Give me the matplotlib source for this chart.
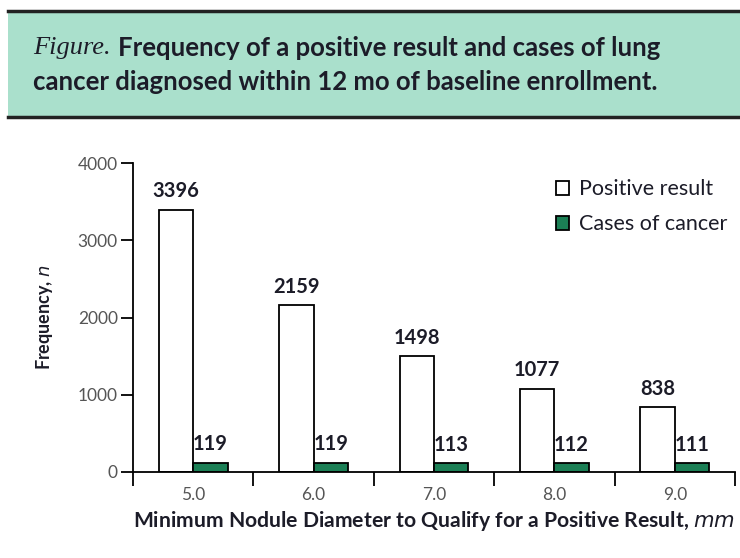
import matplotlib.pyplot as plt
from matplotlib.patches import Rectangle
from matplotlib.lines import Line2D
import numpy as np

diameters = ['5.0', '6.0', '7.0', '8.0', '9.0']
positive = [3396, 2159, 1498, 1077, 838]
cancer = [119, 119, 113, 112, 111]

teal = '#aae0cc'
green = '#1b7f55'
ink = '#1c1c28'

fig = plt.figure(figsize=(7.4, 5.58), dpi=100)

# header band
fig.patches.append(Rectangle((8/740, 1 - 117/558), 1, 106/558, transform=fig.transFigure,
                             facecolor=teal, edgecolor='none', zorder=0))
fig.lines.append(Line2D([8/740, 1], [1 - 11/558, 1 - 11/558], transform=fig.transFigure,
                        color='#222222', lw=2.5))
fig.lines.append(Line2D([8/740, 1], [1 - 117/558, 1 - 117/558], transform=fig.transFigure,
                        color='#222222', lw=2.5))
fig.text(33/740, 1 - 48/558, 'Figure.', family='Liberation Serif', style='italic',
         fontsize=19, color=ink, va='center')
fig.text(118/740, 1 - 48/558, 'Frequency of a positive result and cases of lung',
         family='Lato', weight='bold', fontsize=18.5, color=ink, va='center')
fig.text(33/740, 1 - 82/558, 'cancer diagnosed within 12 mo of baseline enrollment.',
         family='Lato', weight='bold', fontsize=18.5, color=ink, va='center')

ax = fig.add_axes([133/740, 1 - 472/558, 602/740, 309/558])
x = np.arange(len(diameters))
w = 0.285
b1 = ax.bar(x - w/2, positive, w, facecolor='white', edgecolor='black', lw=1.3,
            label='Positive result')
b2 = ax.bar(x + w/2, cancer, w, facecolor=green, edgecolor='black', lw=1.3,
            label='Cases of cancer')
ax.bar_label(b1, padding=6, family='Lato', weight='bold', fontsize=14.5, color=ink)
ax.bar_label(b2, padding=6, family='Lato', weight='bold', fontsize=14.5, color=ink)

ax.set_xlim(-0.5, 4.5)
ax.set_ylim(0, 4000)
ax.set_yticks([0, 1000, 2000, 3000, 4000])
ax.set_xticks(np.arange(-0.5, 5, 1))
ax.set_xticklabels([])
ax.set_xticks(x, minor=True)
ax.set_xticklabels(diameters, minor=True)
ax.tick_params(axis='x', which='major', direction='out', length=10, width=1.3)
ax.tick_params(axis='x', which='minor', length=0, pad=11, labelsize=12.5, labelcolor='#555555')
ax.tick_params(axis='y', direction='out', length=9, width=1.3, labelsize=12.5,
               labelcolor='#555555', pad=2)
for lab in ax.get_xticklabels(minor=True) + ax.get_yticklabels():
    lab.set_family('Lato')
for s in ['top', 'right']:
    ax.spines[s].set_visible(False)
for s in ['left', 'bottom']:
    ax.spines[s].set_linewidth(1.3)

ax.set_xlabel(r'Minimum Nodule Diameter to Qualify for a Positive Result, $\it{mm}$',
              family='Lato', weight='bold', fontsize=15.2, color=ink, labelpad=4)
ax.set_ylabel(r'Frequency, $\it{n}$', family='Lato', weight='bold', fontsize=13,
              color=ink, labelpad=16)

ax.legend(loc='upper left', bbox_to_anchor=(0.67, 1.01), frameon=False,
          handlelength=0.6, handleheight=0.6, handletextpad=0.5, labelspacing=0.7,
          prop={'family': 'Lato', 'size': 15.5}, labelcolor=ink)

fig.savefig('out.png', dpi=100)
